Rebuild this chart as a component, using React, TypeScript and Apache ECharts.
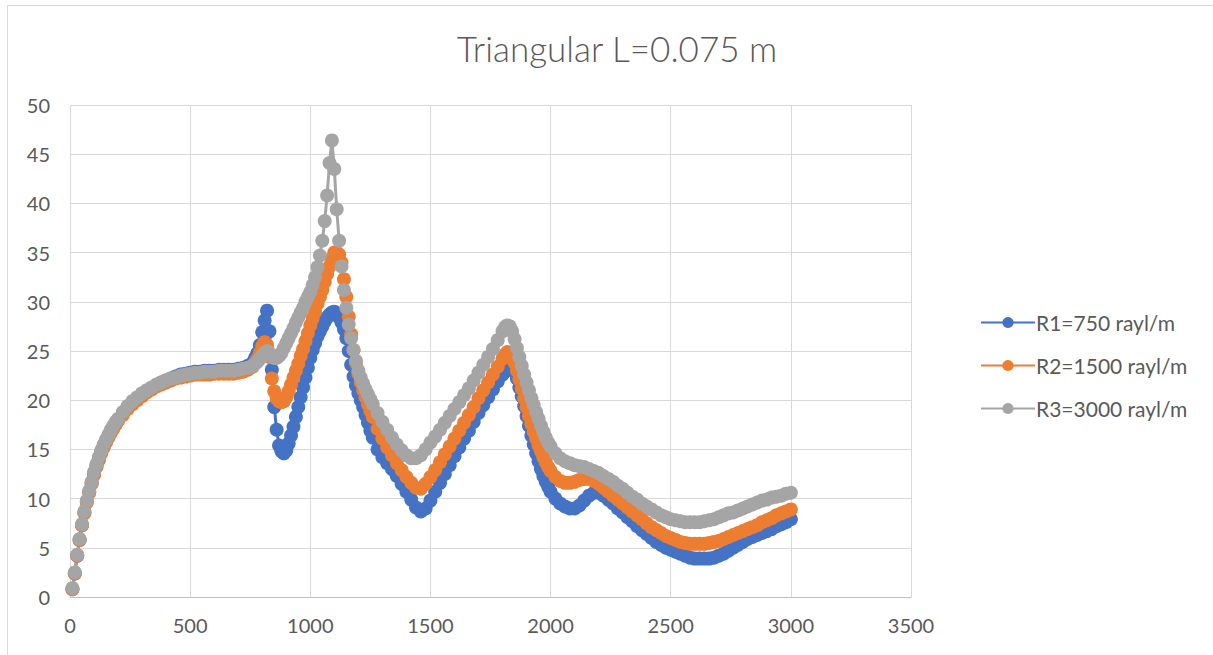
import React, { useEffect, useRef } from "react";
import * as echarts from "echarts";

// Frequency grid (Hz), shared by all three series
const FREQ = [
  // 10..200
  10, 20, 30, 40, 50, 60, 70, 80, 90, 100, 110, 120, 130, 140, 150, 160, 170, 180, 190, 200,
  // 220..760
  220, 240, 260, 280, 300, 320, 340, 360, 380, 400, 420, 440, 460, 480, 500, 520, 540, 560, 580, 600,
  620, 640, 660, 680, 700, 720, 740, 760,
  // 770..1260
  770, 780, 790, 800, 810, 820, 830, 840, 850, 860,
  870, 880, 890, 900, 910, 920, 930, 940, 950, 960,
  970, 980, 990, 1000, 1010, 1020, 1030, 1040, 1050, 1060,
  1070, 1080, 1090, 1100, 1110, 1120, 1130, 1140, 1150, 1160,
  1170, 1180, 1190, 1200, 1210, 1220, 1230, 1240, 1250, 1260,
  // 1280..1800
  1280, 1300, 1320, 1340, 1360, 1380, 1400, 1420, 1440, 1460, 1480, 1500, 1520, 1540, 1560, 1580,
  1600, 1620, 1640, 1660, 1680, 1700, 1720, 1740, 1760, 1780, 1800,
  // 1810..2000
  1810, 1820, 1830, 1840, 1850, 1860, 1870, 1880, 1890, 1900,
  1910, 1920, 1930, 1940, 1950, 1960, 1970, 1980, 1990, 2000,
  // 2020..3000
  2020, 2040, 2060, 2080, 2100, 2120, 2140, 2160, 2180, 2200,
  2220, 2240, 2260, 2280, 2300, 2320, 2340, 2360, 2380, 2400,
  2420, 2440, 2460, 2480, 2500, 2520, 2540, 2560, 2580, 2600,
  2620, 2640, 2660, 2680, 2700, 2720, 2740, 2760, 2780, 2800,
  2820, 2840, 2860, 2880, 2900, 2920, 2940, 2960, 2980, 3000,
];

const R1 = [
  0.8, 2.4, 4.2, 5.8, 7.3, 8.6, 9.7, 10.7, 11.6, 12.5, 13.3, 14.0, 14.7, 15.3, 15.8, 16.3, 16.8, 17.2, 17.6, 18.0,
  18.7, 19.3, 19.8, 20.2, 20.6, 20.9, 21.2, 21.5, 21.8, 22.0, 22.2, 22.4, 22.6, 22.7, 22.8, 22.9, 22.9, 23.0, 23.0, 23.0,
  23.1, 23.1, 23.1, 23.1, 23.2, 23.3, 23.5, 23.8,
  24.3, 24.8, 25.6, 26.9, 28.1, 29.1, 27.0, 23.1, 19.3, 17.0,
  15.4, 14.8, 14.6, 14.9, 15.6, 16.4, 17.3, 18.3, 19.3, 20.3,
  21.3, 22.3, 23.3, 24.3, 25.1, 25.8, 26.5, 27.0, 27.5, 28.0,
  28.4, 28.7, 28.9, 29.0, 28.8, 28.4, 27.9, 27.2, 26.3, 25.0,
  23.6, 22.4, 21.5, 20.7, 20.0, 19.3, 18.5, 17.7, 16.9, 16.2,
  15.0, 14.2, 13.6, 13.0, 12.3, 11.5, 10.7, 9.9, 9.1, 8.7, 9.0, 9.8, 10.7, 11.6, 12.5, 13.4,
  14.3, 15.2, 16.1, 16.9, 17.8, 18.7, 19.5, 20.3, 21.1, 21.9, 22.6,
  22.9, 23.2, 23.4, 23.3, 22.9, 22.2, 21.3, 20.4, 19.4, 18.4,
  17.4, 16.4, 15.5, 14.6, 13.8, 13.0, 12.3, 11.7, 11.2, 10.7,
  10.0, 9.5, 9.2, 9.0, 9.0, 9.3, 9.8, 10.3, 10.6, 10.6,
  10.3, 9.9, 9.5, 9.0, 8.6, 8.1, 7.7, 7.2, 6.8, 6.4,
  6.0, 5.6, 5.3, 5.0, 4.8, 4.6, 4.4, 4.2, 4.0, 3.9,
  3.9, 3.9, 3.9, 4.0, 4.2, 4.4, 4.7, 5.0, 5.3, 5.6,
  5.9, 6.1, 6.3, 6.5, 6.7, 6.9, 7.2, 7.4, 7.6, 7.9,
];

const R2 = [
  0.8, 2.4, 4.2, 5.8, 7.3, 8.5, 9.6, 10.6, 11.5, 12.4, 13.2, 13.9, 14.6, 15.2, 15.7, 16.2, 16.7, 17.1, 17.5, 17.9,
  18.5, 19.1, 19.6, 20.0, 20.4, 20.8, 21.1, 21.4, 21.6, 21.8, 22.0, 22.2, 22.3, 22.4, 22.5, 22.6, 22.6, 22.6, 22.6, 22.7,
  22.7, 22.7, 22.7, 22.7, 22.8, 22.9, 23.1, 23.4,
  23.8, 24.2, 24.8, 25.5, 25.9, 25.6, 24.4, 22.2, 20.9, 20.2,
  19.9, 19.8, 19.9, 20.3, 20.9, 21.6, 22.3, 23.0, 23.7, 24.5,
  25.2, 26.0, 26.8, 27.6, 28.3, 29.0, 29.8, 30.5, 31.2, 32.0,
  32.8, 33.6, 34.4, 35.0, 35.0, 34.8, 34.0, 32.3, 30.5, 28.5,
  26.7, 25.1, 23.8, 22.7, 21.8, 21.0, 20.3, 19.6, 18.9, 18.3,
  17.1, 16.1, 15.2, 14.4, 13.6, 12.9, 12.2, 11.6, 11.1, 11.0, 11.5, 12.2, 12.9, 13.7, 14.5, 15.3,
  16.1, 16.9, 17.7, 18.5, 19.3, 20.2, 21.0, 21.8, 22.6, 23.4, 24.2,
  24.6, 24.9, 24.8, 24.4, 23.8, 23.0, 22.1, 21.2, 20.2, 19.3,
  18.4, 17.6, 16.8, 16.1, 15.4, 14.8, 14.2, 13.7, 13.2, 12.8,
  12.2, 11.8, 11.6, 11.6, 11.7, 11.9, 12.0, 12.0, 11.8, 11.5,
  11.1, 10.7, 10.3, 9.9, 9.5, 9.1, 8.7, 8.3, 7.9, 7.5,
  7.1, 6.8, 6.5, 6.2, 6.0, 5.8, 5.6, 5.5, 5.4, 5.4,
  5.4, 5.4, 5.5, 5.6, 5.7, 5.9, 6.1, 6.3, 6.5, 6.7,
  6.9, 7.1, 7.3, 7.6, 7.8, 8.0, 8.3, 8.5, 8.7, 8.9,
];

const R3 = [
  0.9, 2.5, 4.3, 5.9, 7.4, 8.7, 9.8, 10.8, 11.7, 12.7, 13.5, 14.2, 14.9, 15.5, 16.0, 16.5, 17.0, 17.4, 17.8, 18.1,
  18.8, 19.4, 19.9, 20.3, 20.7, 21.0, 21.3, 21.6, 21.8, 22.0, 22.2, 22.3, 22.5, 22.6, 22.7, 22.8, 22.8, 22.9, 22.9, 22.9,
  23.0, 23.0, 23.0, 23.0, 23.1, 23.2, 23.3, 23.5,
  23.7, 23.9, 24.2, 24.5, 24.8, 25.0, 24.8, 24.5, 24.3, 24.3,
  24.5, 24.8, 25.3, 25.8, 26.3, 26.8, 27.3, 27.9, 28.4, 28.9,
  29.4, 30.0, 30.5, 31.0, 31.7, 32.5, 33.5, 34.7, 36.2, 38.2,
  40.8, 44.1, 46.4, 43.5, 39.4, 36.2, 33.6, 31.2, 29.4, 27.7,
  26.3, 25.1, 24.0, 23.0, 22.3, 21.7, 21.1, 20.6, 20.1, 19.6,
  18.7, 17.8, 17.0, 16.2, 15.5, 14.9, 14.4, 14.1, 14.1, 14.4, 15.0, 15.7, 16.3, 17.0, 17.7, 18.4,
  19.1, 19.8, 20.5, 21.2, 22.0, 22.8, 23.6, 24.4, 25.2, 26.1, 27.0,
  27.4, 27.6, 27.5, 27.0, 26.2, 25.3, 24.4, 23.5, 22.6, 21.8,
  21.0, 20.2, 19.5, 18.8, 18.1, 17.4, 16.8, 16.2, 15.7, 15.3,
  14.6, 14.1, 13.8, 13.6, 13.4, 13.3, 13.2, 13.0, 12.8, 12.6,
  12.3, 12.0, 11.7, 11.3, 11.0, 10.6, 10.2, 9.9, 9.5, 9.2,
  8.9, 8.6, 8.3, 8.1, 7.9, 7.8, 7.7, 7.6, 7.6, 7.6,
  7.6, 7.7, 7.8, 7.9, 8.1, 8.3, 8.5, 8.6, 8.8, 9.0,
  9.2, 9.4, 9.6, 9.8, 9.9, 10.1, 10.2, 10.3, 10.5, 10.6,
];

const TITLE = "Triangular L=0.075 m";
const SERIES_NAMES = ["R1=750 rayl/m", "R2=1500 rayl/m", "R3=3000 rayl/m"];
const SERIES_VALUES = [R1, R2, R3];
const COLORS = ["#4472C4", "#ED7D31", "#A5A5A5"];

const FONT = "Lato, 'Open Sans', sans-serif";

export default function App() {
  const ref = useRef<HTMLDivElement>(null);

  useEffect(() => {
    document.body.style.margin = "0";
    if (!ref.current) return;
    const chart = echarts.init(ref.current, null, { renderer: "svg" });
    chart.setOption({
      animation: false,
      backgroundColor: "#ffffff",
      textStyle: { fontFamily: FONT },
      title: {
        text: TITLE,
        left: 612,
        textAlign: "center",
        top: 25,
        textStyle: { fontFamily: FONT, fontSize: 35, fontWeight: 300, color: "#595959" },
      },
      graphic: [
        {
          type: "rect",
          shape: { x: 7.5, y: 5.5, width: 1300, height: 700 },
          style: { fill: "none", stroke: "#D9D9D9", lineWidth: 1 },
          silent: true,
        },
      ],
      grid: { left: 70, right: 302, top: 105, bottom: 58, containLabel: false },
      legend: {
        orient: "vertical",
        left: 975,
        top: 307,
        itemWidth: 54,
        itemHeight: 14,
        itemGap: 22,
        data: SERIES_NAMES,
        textStyle: { fontFamily: FONT, fontSize: 21, color: "#595959", padding: [0, 0, 0, -4] },
      },
      xAxis: {
        type: "value",
        min: 0,
        max: 3500,
        interval: 500,
        axisLine: { show: true, lineStyle: { color: "#BFBFBF", width: 1 } },
        axisTick: { show: false },
        splitLine: { show: true, lineStyle: { color: "#D9D9D9", width: 1 } },
        axisLabel: {
          color: "#595959",
          fontSize: 20,
          margin: 18,
          fontFamily: FONT,
          formatter: (v: number) => String(v),
        },
      },
      yAxis: {
        type: "value",
        min: 0,
        max: 50,
        interval: 5,
        axisLine: { show: false },
        axisTick: { show: false },
        splitLine: { show: true, lineStyle: { color: "#D9D9D9", width: 1 } },
        axisLabel: { color: "#595959", fontSize: 20, margin: 20, fontFamily: FONT },
      },
      series: SERIES_NAMES.map((name, s) => ({
        name,
        type: "line",
        data: FREQ.map((f, i) => [f, SERIES_VALUES[s][i]]),
        symbol: "circle",
        symbolSize: 14,
        showSymbol: true,
        showAllSymbol: true,
        clip: false,
        color: COLORS[s],
        itemStyle: { color: COLORS[s] },
        lineStyle: { color: COLORS[s], width: 3 },
        emphasis: { disabled: true },
      })),
    });
    return () => chart.dispose();
  }, []);

  return <div ref={ref} style={{ width: 1213, height: 655 }} />;
}
